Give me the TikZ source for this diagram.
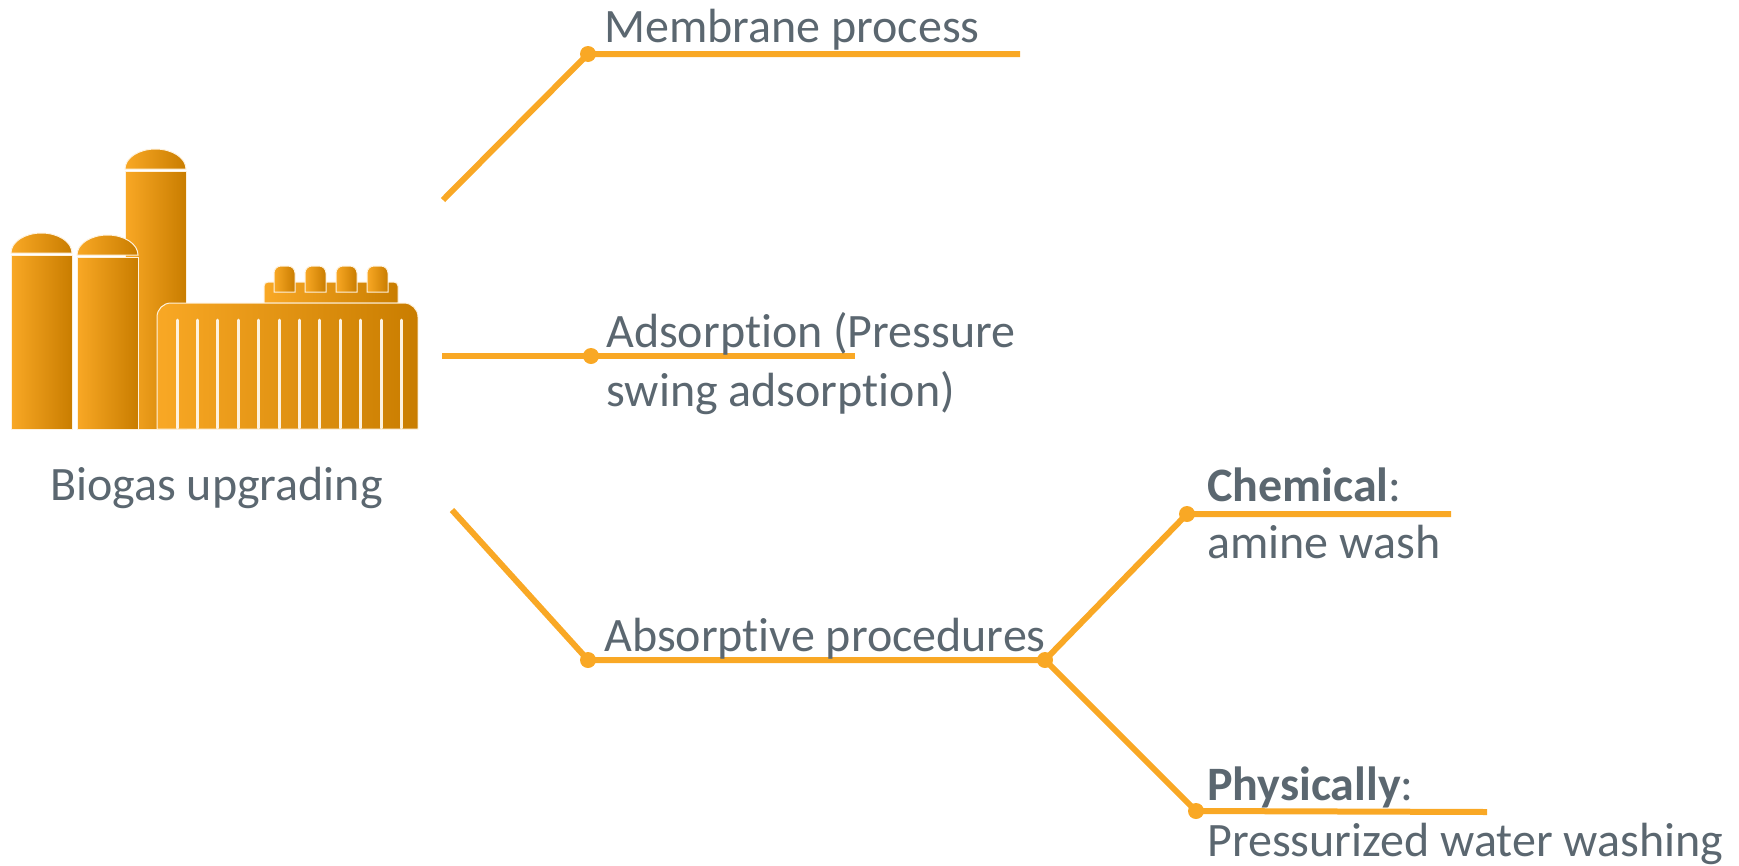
\documentclass[tikz,border=0pt]{standalone}
\usepackage{fontspec}
\setmainfont{Carlito}[Ligatures=NoCommon]
\usepackage{xcolor}
\usetikzlibrary{positioning}
\definecolor{bioline}{HTML}{F9A825}
\definecolor{biodark}{HTML}{C97D00}
\definecolor{biotext}{HTML}{5B6770}

\begin{document}
\begin{tikzpicture}[
    x=1pt, y=-1pt,
    branch/.style={draw=bioline, line width=6pt, line join=round},
    dot/.style={circle, fill=bioline, inner sep=0pt, minimum size=16pt},
    label/.style={anchor=base west, inner sep=0pt, text=biotext, align=left, font=\fontsize{48}{58}\selectfont},
    tank/.style={left color=bioline, right color=biodark, draw=white!85!bioline, line width=1pt},
    rib/.style={draw=white!85!bioline, line width=3pt, line cap=round},
    ]
    \useasboundingbox (0,0) rectangle (1739,865);

    % Silos (tall one first, it stands behind)
    \foreach \sx/\stop/\sbot in {125/149/171, 11/233/255, 77/235/257} {
        \path[tank] (\sx,\sbot-2) arc[start angle=180, end angle=360, x radius=30.5, y radius=\sbot-2-\stop] -- cycle;
        \path[tank] (\sx,\sbot) rectangle (\sx+61,429);
    }

    % Roof strip and the four cups
    \path[tank] (264,303) -- (264,287) [rounded corners=4pt] -- (264,282) -- (398,282) [sharp corners] -- (398,303) -- cycle;
    \foreach \cx in {274,305,336,367} {
        \path[tank] (\cx,292) -- (\cx,272) [rounded corners=7pt] -- (\cx,266) -- (\cx+21,266) [sharp corners] -- (\cx+21,292) -- cycle;
    }

    % Main building with its ribs
    \path[tank] (157,429) [rounded corners=14pt] -- (157,303) -- (418,303) [sharp corners] -- (418,429) -- cycle;
    \foreach \rx in {0,...,11} {
        \draw[rib] (177+20.4*\rx,320) -- (177+20.4*\rx,428);
    }

    % Joints and free ends of the lines
    \coordinate (memstart) at (443,200);
    \node[dot] (memdot) at (588,54) {};
    \coordinate (memend) at (1020,54);
    \coordinate (adsstart) at (442,356);
    \node[dot] (adsdot) at (591,356) {};
    \coordinate (adsend) at (855,356);
    \coordinate (absstart) at (452,510);
    \node[dot] (absdot) at (588,660) {};
    \node[dot] (hubdot) at (1045,660) {};
    \node[dot] (chemdot) at (1187,514) {};
    \coordinate (chemend) at (1451,514);
    \node[dot] (physdot) at (1196,811) {};
    \coordinate (physend) at (1487,812);

    % Lines
    \draw[branch] (memstart) -- (memdot.center) -- (memend);
    \draw[branch] (adsstart) -- (adsdot.center) -- (adsend);
    \draw[branch] (absstart) -- (absdot.center) -- (hubdot.center);
    \draw[branch] (hubdot.center) -- (chemdot.center) -- (chemend);
    \draw[branch] (hubdot.center) -- (physdot.center) -- (physend);

    % Labels
    \node[label] (biogas) at (50,500) {Biogas upgrading};
    \node[label] (membrane) at (604,42) {Membrane process};
    \node[label] (adsorption) at (606,347) {Adsorption (Pressure};
    \node[label] (swing) at (606,406) {swing adsorption)};
    \node[label] (absorptive) at (604,651) {Absorptive procedures};
    \node[label] (chemical) at (1207,501) {\textbf{Chemical}:};
    \node[label] (amine) at (1207,558) {amine wash};
    \node[label] (physically) at (1207,800) {\textbf{Physically}:};
    \node[label] (pressurized) at (1207,856) {Pressurized water washing};
\end{tikzpicture}
\end{document}
